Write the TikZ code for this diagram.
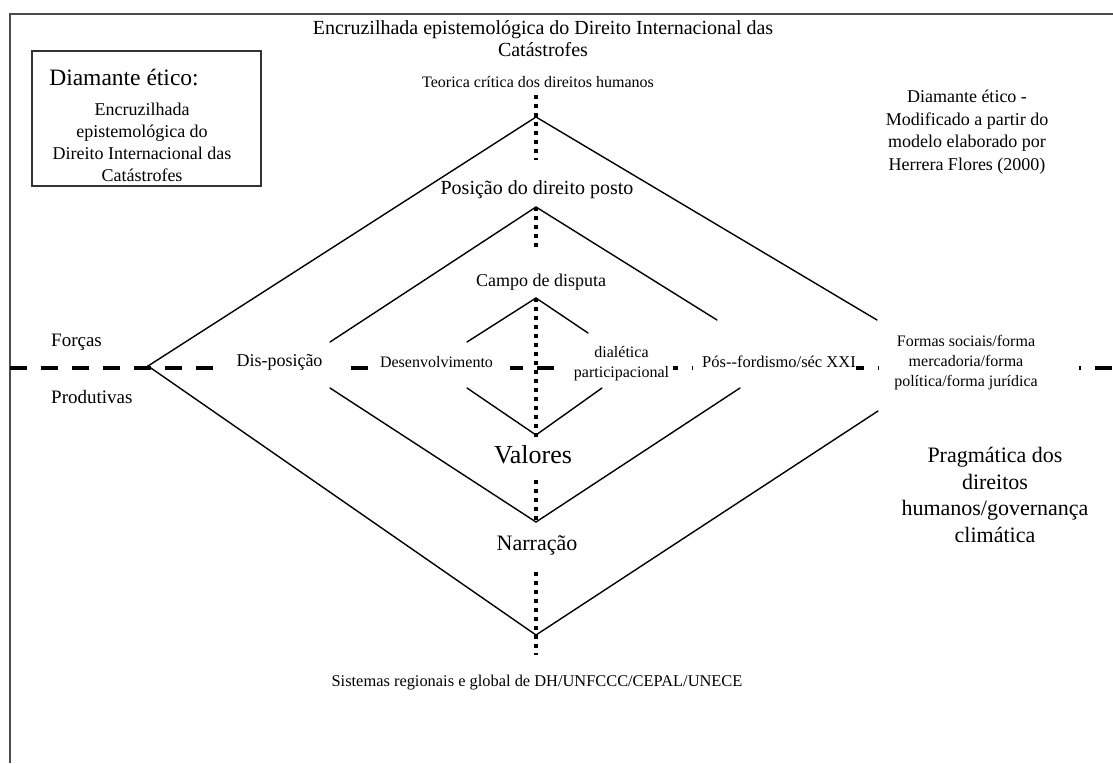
\documentclass[tikz,border=0pt]{standalone}
\usepackage{fontspec}
\setmainfont{Liberation Serif}
\newcommand\fsz[2]{\fontsize{#1}{#2}\selectfont}
\tikzset{
  lbl/.style={inner sep=0pt, align=center},
  cover/.style={fill=white, inner ysep=6pt, inner xsep=0pt},
  dline/.style={line width=1.4pt, line cap=round},
  dotline/.style={line width=3.5pt, dash pattern=on 3.5pt off 5.5pt},
  dashline/.style={line width=4pt, dash pattern=on 17pt off 14pt},
  framel/.style={line width=2pt, draw=black!70},
  boxl/.style={line width=1.5pt, draw=black!80},
}
\begin{document}
\begin{tikzpicture}[x=1pt,y=-1pt]
\useasboundingbox (0,0) rectangle (1113,763);
% frame
\coordinate (fTL) at (10,14);
\coordinate (fTR) at (1113,14);
\coordinate (fBL) at (10,763);
\draw[framel] (fTR) -- (fTL) -- (fBL);
% left box
\node[draw, boxl, minimum width=229pt, minimum height=135pt, inner sep=0pt] (box) at (146.5,118.5) {};
\node[lbl, font=\fsz{23.5}{27}] (boxtitle) at (124,77) {Diamante ético:};
\node[lbl, font=\fsz{18}{22}] (boxbody) at (142,142) {Encruzilhada\\epistemológica do\\Direito Internacional das\\Catástrofes};
% titles
\node[lbl, font=\fsz{20}{22}] (title) at (543,39) {Encruzilhada epistemológica do Direito Internacional das\\Catástrofes};
\node[lbl, font=\fsz{16}{19}] (teoria) at (538,82) {Teorica crítica dos direitos humanos};
\node[lbl, font=\fsz{18}{22.5}] (note) at (967,132) {Diamante ético -\\Modificado a partir do\\modelo elaborado por\\Herrera Flores (2000)};
% diamond coordinates
\coordinate (oL) at (148,366);
\coordinate (oT) at (536,117);
\coordinate (oB) at (536,635);
\coordinate (oRu) at (877,320);
\coordinate (oRl) at (878,411);
\coordinate (mT) at (536,207);
\coordinate (mB) at (536,522);
\coordinate (mLu) at (330,342);
\coordinate (mLl) at (330,388);
\coordinate (mRu) at (717,320);
\coordinate (mRl) at (740,388);
\coordinate (iT) at (536,298);
\coordinate (iB) at (536,435);
\coordinate (iLu) at (467,342);
\coordinate (iLl) at (467,388);
\coordinate (iRu) at (588,333);
\coordinate (iRl) at (602,388);
% outer diamond
\draw[dline] (oRu) -- (oT) -- (oL) -- (oB) -- (oRl);
% middle diamond
\draw[dline] (mLu) -- (mT) -- (mRu);
\draw[dline] (mLl) -- (mB) -- (mRl);
% inner diamond
\draw[dline] (iLu) -- (iT) -- (iRu);
\draw[dline] (iLl) -- (iB) -- (iRl);
% dashed horizontal line
\coordinate (hL) at (10,368);
\coordinate (hR) at (1113,368);
\draw[dashline] (hL) -- (hR);
% labels on the dashed line
\node[cover, inner xsep=15pt, font=\fsz{18}{22}] (dispos) at (279.5,362) {Dis-posição};
\node[cover, inner xsep=10pt, font=\fsz{16}{19}] (desenv) at (440,362) {Desenvolvimento\hspace*{7pt}};
\node[cover, inner xsep=4pt, inner ysep=2pt, font=\fsz{16}{20}] (dialet) at (619.5,363) {\hspace*{4pt}\begin{tabular}{@{}c@{}}dialética\\participacional\end{tabular}};
\node[cover, font=\fsz{16.5}{20}] (posford) at (774.5,362) {\hspace*{9pt}Pós-\kern0pt-fordismo/séc XXI};
\node[cover, inner xsep=15pt, inner ysep=2pt, font=\fsz{16}{20}] (formas) at (979,362) {\begin{tabular}{@{}c@{}}Formas sociais/forma\\mercadoria/forma\\política/forma jurídica\end{tabular}\hspace*{26pt}};
% dotted vertical line
\coordinate (v1a) at (536,95);  \coordinate (v1b) at (536,160);
\coordinate (v2b) at (536,250);
\coordinate (v3b) at (536,440);
\coordinate (v4a) at (536,480);
\coordinate (v5a) at (536,572); \coordinate (v5b) at (536,655);
\draw[dotline] (v1a) -- (v1b);
\draw[dotline] (mT) -- (v2b);
\draw[dotline] (iT) -- (v3b);
\draw[dotline] (v4a) -- (mB);
\draw[dotline] (v5a) -- (v5b);
% other labels
\node[lbl, font=\fsz{20}{24}] (posicao) at (537,190) {Posição do direito posto};
\node[lbl, font=\fsz{18}{22}] (campo) at (541,282) {Campo de disputa};
\node[lbl, anchor=west, font=\fsz{19}{22}] (forcas) at (51,342) {Forças};
\node[lbl, anchor=west, font=\fsz{19}{22}] (produt) at (51,397) {Produtivas};
\node[lbl, font=\fsz{26}{30}] (valores) at (533,455) {Valores};
\node[lbl, font=\fsz{22}{26}] (narracao) at (537,545) {Narração};
\node[lbl, font=\fsz{16.4}{20}] (sistemas) at (537,683) {Sistemas regionais e global de DH/UNFCCC/CEPAL/UNECE};
\node[lbl, font=\fsz{22}{26.5}] (pragma) at (995,495) {Pragmática dos\\direitos\\humanos/governança\\climática};
\end{tikzpicture}
\end{document}
